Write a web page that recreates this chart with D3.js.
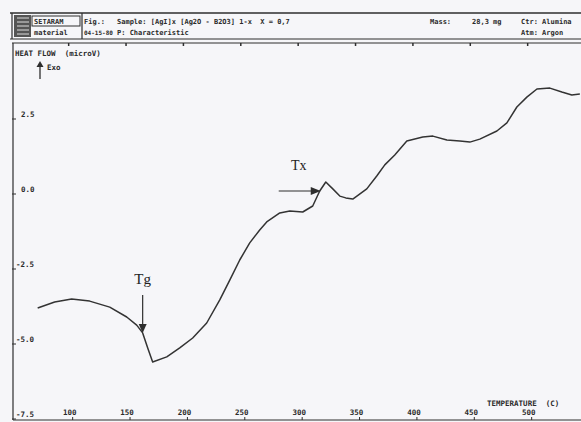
<!DOCTYPE html>
<meta charset="utf-8">
<head>
	<title>DSC curve</title>
	<style>
		body { margin: 0; background: #f6f6f9; }
		svg { display: block; }
		.mono { font-family: "DejaVu Sans Mono", monospace; font-weight: bold; fill: #2a2a2a; white-space: pre; }
		.serif { font-family: "Liberation Serif", "DejaVu Serif", serif; fill: #222; }
	</style>
	<script src="https://d3js.org/d3.v7.min.js"></script>
</head>
<body>
<div id="chart"></div>
<script>
	// temperatures (C) and heat flow (microV)
	const temps = [69.5, 84.3, 99.1, 114.8, 132.3, 147.1, 155.8, 161.0, 165.4, 169.7,
		182.0, 193.3, 204.6, 216.8, 228.2, 236.9, 245.6, 254.3, 263.0, 269.1,
		280.5, 289.2, 300.5, 309.2, 315.3, 320.6, 326.7, 332.8, 338.0, 344.1,
		356.3, 365.0, 372.0, 380.7, 391.2, 405.1, 413.9, 426.1, 437.4, 446.1,
		454.8, 469.7, 478.4, 487.1, 495.8, 504.6, 515.9, 526.3, 535.0, 542.0];
	const heatFlow = [-3.80, -3.60, -3.50, -3.57, -3.77, -4.10, -4.37, -4.63, -5.13, -5.60,
		-5.43, -5.13, -4.80, -4.30, -3.53, -2.87, -2.20, -1.63, -1.20, -0.93,
		-0.63, -0.57, -0.60, -0.40, 0.10, 0.40, 0.17, -0.07, -0.13, -0.17,
		0.17, 0.60, 0.97, 1.30, 1.77, 1.90, 1.93, 1.80, 1.77, 1.73,
		1.83, 2.10, 2.37, 2.90, 3.23, 3.50, 3.53, 3.40, 3.30, 3.33];
	const xTicks = [100, 150, 200, 250, 300, 350, 400, 450, 500];
	const yTicks = [2.5, 0.0, -2.5, -5.0, -7.5];
	const headerLine1 = ["Fig.:", "Sample: [AgI]x [Ag2O - B2O3] 1-x  X = 0,7", "Mass:", "28,3 mg", "Ctr: Alumina"];
	const headerLine2 = ["04-15-80", "P: Characteristic", "", "", "Atm: Argon"];
	const headerX = [84, 117, 430, 472, 521];

	const W = 581, H = 422;
	const svg = d3.select('#chart').append('svg').attr('width', W).attr('height', H);
	const ink = '#2e2e2e';

	const x = d3.scaleLinear().domain([48, 543]).range([13, 581]);
	const y = d3.scaleLinear().domain([-7.5, 5.0]).range([419, 44]);

	// header block
	const hdr = svg.append('g');
	hdr.append('line').attr('x1', 10).attr('x2', W).attr('y1', 13).attr('y2', 13).attr('stroke', ink).attr('stroke-width', 1.5);
	hdr.append('line').attr('x1', 10).attr('x2', W).attr('y1', 39).attr('y2', 39).attr('stroke', ink).attr('stroke-width', 1.2);
	hdr.append('line').attr('x1', 12).attr('x2', 12).attr('y1', 13).attr('y2', 39).attr('stroke', ink).attr('stroke-width', 1.2);
	hdr.append('line').attr('x1', 82).attr('x2', 82).attr('y1', 13).attr('y2', 39).attr('stroke', ink).attr('stroke-width', 1.2);
	// logo
	hdr.append('rect').attr('x', 14).attr('y', 15).attr('width', 17).attr('height', 22).attr('fill', '#555');
	d3.range(5).forEach(i => hdr.append('line').attr('x1', 17).attr('x2', 29)
		.attr('y1', 18 + i * 4).attr('y2', 18 + i * 4).attr('stroke', '#ddd').attr('stroke-width', 1));
	hdr.append('rect').attr('x', 32).attr('y', 16).attr('width', 48).attr('height', 10).attr('fill', 'none').attr('stroke', ink);
	hdr.append('text').attr('class', 'mono').attr('x', 34).attr('y', 24).style('font-size', '7px').text('SETARAM');
	hdr.append('text').attr('class', 'mono').attr('x', 34).attr('y', 35).style('font-size', '7px').text('material');
	hdr.selectAll('.h1').data(headerLine1).join('text').attr('class', 'mono h1')
		.attr('x', (d, i) => headerX[i]).attr('y', 24).style('font-size', '7px').text(d => d);
	hdr.selectAll('.h2').data(headerLine2).join('text').attr('class', 'mono h2')
		.attr('x', (d, i) => headerX[i]).attr('y', 35).style('font-size', (d, i) => i === 0 ? '6px' : '7px').text(d => d);

	// plot frame
	svg.append('line').attr('x1', 12).attr('x2', W).attr('y1', 43).attr('y2', 43).attr('stroke', ink).attr('stroke-width', 1.2);
	svg.append('line').attr('x1', 13).attr('x2', 13).attr('y1', 43).attr('y2', 420).attr('stroke', ink).attr('stroke-width', 1.2);
	svg.append('line').attr('x1', 13).attr('x2', W).attr('y1', 420).attr('y2', 420).attr('stroke', ink).attr('stroke-width', 1.2);

	// x axis ticks (bottom) and top marks
	svg.selectAll('.xt').data(xTicks).join('line').attr('class', 'xt')
		.attr('x1', d => x(d)).attr('x2', d => x(d)).attr('y1', 417).attr('y2', 420).attr('stroke', ink);
	svg.selectAll('.xtop').data(xTicks).join('line').attr('class', 'xtop')
		.attr('x1', d => x(d) - 4).attr('x2', d => x(d) - 4).attr('y1', 43).attr('y2', 46).attr('stroke', ink).attr('stroke-width', 1.5);
	svg.selectAll('.xl').data(xTicks).join('text').attr('class', 'mono xl')
		.attr('x', d => x(d) - 3).attr('y', 415).attr('text-anchor', 'middle').style('font-size', '7.5px').text(d => d);

	// y axis ticks and labels
	svg.selectAll('.yt').data(yTicks).join('line').attr('class', 'yt')
		.attr('x1', 12).attr('x2', 16).attr('y1', d => y(d)).attr('y2', d => y(d)).attr('stroke', ink);
	svg.selectAll('.yl').data(yTicks).join('text').attr('class', 'mono yl')
		.attr('x', d => d < 0 ? 16 : 21).attr('y', d => y(d) - 2).style('font-size', '7.5px')
		.text(d => d.toFixed(1));

	// axis titles
	svg.append('text').attr('class', 'mono').attr('x', 15).attr('y', 56).style('font-size', '7.5px').text('HEAT FLOW  (microV)');
	svg.append('line').attr('x1', 40).attr('x2', 40).attr('y1', 79).attr('y2', 66).attr('stroke', ink).attr('stroke-width', 1.3);
	svg.append('path').attr('d', 'M36.5,67 L40,61 L43.5,67 Z').attr('fill', ink);
	svg.append('text').attr('class', 'mono').attr('x', 47).attr('y', 70).style('font-size', '7.5px').text('Exo');
	svg.append('text').attr('class', 'mono').attr('x', 487).attr('y', 406).style('font-size', '7.5px').text('TEMPERATURE  (C)');

	// curve
	const pts = temps.map((t, i) => [t, heatFlow[i]]);
	svg.append('path').datum(pts)
		.attr('fill', 'none').attr('stroke', '#333').attr('stroke-width', 1.5).attr('stroke-linejoin', 'round')
		.attr('d', d3.line().x(d => x(d[0])).y(d => y(d[1])));

	// Tg annotation
	const tgX = x(161.0), tgY = y(-4.63);
	svg.append('line').attr('x1', tgX).attr('x2', tgX).attr('y1', tgY - 38).attr('y2', tgY - 7).attr('stroke', ink).attr('stroke-width', 1.2);
	svg.append('path').attr('d', `M${tgX - 4},${tgY - 9} L${tgX},${tgY} L${tgX + 4},${tgY - 9} Z`).attr('fill', ink);
	svg.append('text').attr('class', 'serif').attr('x', tgX).attr('y', tgY - 49).attr('text-anchor', 'middle').style('font-size', '15px').text('Tg');

	// Tx annotation
	const txX = x(315.3) + 1, txY = y(0.10);
	svg.append('line').attr('x1', txX - 42).attr('x2', txX - 8).attr('y1', txY).attr('y2', txY).attr('stroke', ink).attr('stroke-width', 1.2);
	svg.append('path').attr('d', `M${txX - 10},${txY - 4} L${txX},${txY} L${txX - 10},${txY + 4} Z`).attr('fill', ink);
	svg.append('text').attr('class', 'serif').attr('x', txX - 22).attr('y', txY - 21).attr('text-anchor', 'middle').style('font-size', '14px').text('Tx');
</script>
</body>
